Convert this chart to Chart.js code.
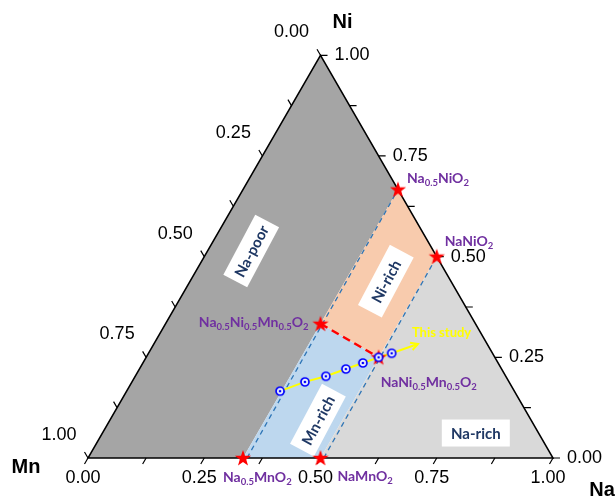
<!DOCTYPE html>
<html>
<head>
<meta charset="utf-8">
<script src="https://cdn.jsdelivr.net/npm/chart.js@4.4.0/dist/chart.umd.min.js"></script>
<style>
html, body { margin: 0; padding: 0; background: #fff; }
canvas { display: block; }
</style>
</head>
<body>
<canvas id="ternary" width="615" height="498"></canvas>
<script>
// compositions are given as Na and Ni fractions, Mn = 1 - Na - Ni
var tickValues = [0, 0.25, 0.5, 0.75, 1];
var tickLabels = ["0.00", "0.25", "0.50", "0.75", "1.00"];
var minorTicks = [0.125, 0.375, 0.625, 0.875];

var phaseNames = ["Na0.5NiO2", "NaNiO2", "Na0.5Ni0.5Mn0.5O2", "NaNi0.5Mn0.5O2", "Na0.5MnO2", "NaMnO2"];
var phaseNa = [1/3, 0.5, 1/3, 0.5, 1/3, 0.5];
var phaseNi = [2/3, 0.5, 1/3, 0.25, 0, 0];

var studyNa = [0.330, 0.372, 0.410, 0.444, 0.473, 0.500, 0.523];
var studyNi = [0.166, 0.189, 0.203, 0.221, 0.236, 0.250, 0.260];
var arrowNa = 0.568, arrowNi = 0.283;

var regionNames = ["Na-poor", "Mn-rich", "Ni-rich", "Na-rich"];
var regionNa = [[0, 1/3, 1/3, 0], [1/3, 0.5, 0.5, 1/3], [1/3, 0.5, 0.5, 1/3], [0.5, 1, 0.5]];
var regionNi = [[0, 0, 2/3, 1], [0, 0, 0.25, 1/3], [1/3, 0.25, 0.5, 2/3], [0, 0, 0.5]];
var regionLabelNa = [0.094, 0.4475, 0.421, 0.803];
var regionLabelNi = [0.514, 0.094, 0.439, 0.062];

var thirdLineNa = [0.342, 1/3], thirdLineNi = [0, 2/3];
var halfLineNa = [0.507, 0.5], halfLineNi = [0, 0.5];
var splitLineNa = [1/3, 0.5], splitLineNi = [1/3, 0.25];

// layout / style
var regionColors = ["#a5a5a5", "#bdd7ee", "#f8cbad", "#d9d9d9"];
var regionAngle = [-62, -62, -62, 0];
var labelDx = [9, 8, -12, 2, -20, 17];
var labelDy = [-12, -16, -2, 25, 19, 18];
var labelAlign = ["left", "left", "right", "left", "left", "left"];

var H = Math.sqrt(3) / 2;
function tern(na, ni) { return {x: na + ni / 2, y: ni * H}; }
function pts(nas, nis) {
    var out = [];
    for (var i = 0; i < nas.length; i++) out.push(tern(nas[i], nis[i]));
    return out;
}
function pix(chart, na, ni) {
    var p = tern(na, ni);
    return [chart.scales.x.getPixelForValue(p.x), chart.scales.y.getPixelForValue(p.y)];
}

// red filled star marker
var starImg = document.createElement("canvas");
starImg.width = 18; starImg.height = 18;
(function () {
    var c = starImg.getContext("2d");
    c.beginPath();
    for (var k = 0; k < 10; k++) {
        var r = k % 2 ? 3.4 : 8.5;
        var a = -Math.PI / 2 + k * Math.PI / 5;
        c.lineTo(9 + r * Math.cos(a), 9.5 + r * Math.sin(a));
    }
    c.closePath();
    c.fillStyle = "#ff0000";
    c.fill();
})();

// blue ring with centre dot
var ringImg = document.createElement("canvas");
ringImg.width = 12; ringImg.height = 12;
(function () {
    var c = ringImg.getContext("2d");
    c.beginPath();
    c.arc(6, 6, 4, 0, Math.PI * 2);
    c.fillStyle = "#eef4ff";
    c.fill();
    c.lineWidth = 1.7;
    c.strokeStyle = "#0000ff";
    c.stroke();
    c.beginPath();
    c.arc(6, 6, 1.3, 0, Math.PI * 2);
    c.fillStyle = "#0000ff";
    c.fill();
})();

function drawChem(ctx, name, x, y, align) {
    var parts = name.split(/(\d+(?:\.\d+)?)/);
    var big = "bold 14px Lato", small = "bold 9.5px Lato";
    var w = 0, i;
    for (i = 0; i < parts.length; i++) {
        ctx.font = i % 2 ? small : big;
        w += ctx.measureText(parts[i]).width;
    }
    var cx = align === "right" ? x - w : x;
    ctx.textAlign = "left";
    ctx.textBaseline = "alphabetic";
    for (i = 0; i < parts.length; i++) {
        ctx.font = i % 2 ? small : big;
        ctx.fillText(parts[i], cx, i % 2 ? y + 8 : y + 5);
        cx += ctx.measureText(parts[i]).width;
    }
}

var ternaryPlugin = {
    id: "ternary",
    beforeDatasetsDraw: function (chart) {
        var ctx = chart.ctx, i, j, p;
        ctx.save();
        // phase regions
        for (i = 0; i < regionNa.length; i++) {
            ctx.beginPath();
            for (j = 0; j < regionNa[i].length; j++) {
                p = pix(chart, regionNa[i][j], regionNi[i][j]);
                ctx.lineTo(p[0], p[1]);
            }
            ctx.closePath();
            ctx.fillStyle = regionColors[i];
            ctx.fill();
        }
        // frame
        var A = pix(chart, 0, 0), B = pix(chart, 1, 0), C = pix(chart, 0, 1);
        ctx.beginPath();
        ctx.moveTo(A[0], A[1]); ctx.lineTo(B[0], B[1]); ctx.lineTo(C[0], C[1]); ctx.closePath();
        ctx.strokeStyle = "#000"; ctx.lineWidth = 1.5;
        ctx.stroke();
        // ticks
        var all = tickValues.concat(minorTicks);
        ctx.lineWidth = 1.2;
        ctx.beginPath();
        for (i = 0; i < all.length; i++) {
            var t = all[i];
            p = pix(chart, t, 0);             // Na axis (bottom)
            ctx.moveTo(p[0], p[1]); ctx.lineTo(p[0] - 3.5, p[1] + 6);
            p = pix(chart, 1 - t, t);         // Ni axis (right)
            ctx.moveTo(p[0], p[1]); ctx.lineTo(p[0] + 7, p[1]);
            p = pix(chart, 0, 1 - t);         // Mn axis (left)
            ctx.moveTo(p[0], p[1]); ctx.lineTo(p[0] - 3.5, p[1] - 6);
        }
        ctx.stroke();
        // tick labels
        ctx.fillStyle = "#000";
        ctx.font = "18px 'Liberation Sans', Arial, sans-serif";
        ctx.textBaseline = "middle";
        for (i = 0; i < tickValues.length; i++) {
            var v = tickValues[i];
            ctx.textAlign = "center";
            p = pix(chart, v, 0);
            ctx.fillText(tickLabels[i], p[0] - 5, p[1] + 20);
            p = pix(chart, 0, 1 - v);
            ctx.fillText(tickLabels[i], p[0] - 29, p[1] - 23);
            ctx.textAlign = "left";
            p = pix(chart, 1 - v, v);
            ctx.fillText(tickLabels[i], p[0] + 14, p[1]);
        }
        // axis titles
        ctx.font = "bold 20px 'Liberation Sans', Arial, sans-serif";
        ctx.textAlign = "center";
        ctx.fillText("Ni", C[0] + 22, C[1] - 33);
        ctx.fillText("Mn", A[0] - 62, A[1] + 9);
        ctx.fillText("Na", B[0] + 49, B[1] + 32);
        // region labels in white boxes
        for (i = 0; i < regionNames.length; i++) {
            p = pix(chart, regionLabelNa[i], regionLabelNi[i]);
            ctx.save();
            ctx.translate(p[0], p[1]);
            ctx.rotate(regionAngle[i] * Math.PI / 180);
            ctx.fillStyle = "#fff";
            ctx.fillRect(-34, -13.5, 68, 27);
            ctx.fillStyle = "#1f3864";
            ctx.font = "bold 15px Lato";
            ctx.textAlign = "center";
            ctx.textBaseline = "middle";
            ctx.fillText(regionNames[i], 0, 1);
            ctx.restore();
        }
        ctx.restore();
    },
    afterDatasetsDraw: function (chart) {
        var ctx = chart.ctx, i, p;
        ctx.save();
        ctx.fillStyle = "#7030a0";
        for (i = 0; i < phaseNames.length; i++) {
            p = pix(chart, phaseNa[i], phaseNi[i]);
            drawChem(ctx, phaseNames[i], p[0] + labelDx[i], p[1] + labelDy[i], labelAlign[i]);
        }
        // arrow head of the study path
        var tip = pix(chart, arrowNa, arrowNi);
        var last = pix(chart, studyNa[studyNa.length - 1], studyNi[studyNi.length - 1]);
        var ang = Math.atan2(tip[1] - last[1], tip[0] - last[0]);
        ctx.strokeStyle = "#ffff00";
        ctx.lineWidth = 2;
        ctx.beginPath();
        ctx.moveTo(tip[0] - 8 * Math.cos(ang - 0.5), tip[1] - 8 * Math.sin(ang - 0.5));
        ctx.lineTo(tip[0], tip[1]);
        ctx.lineTo(tip[0] - 8 * Math.cos(ang + 0.5), tip[1] - 8 * Math.sin(ang + 0.5));
        ctx.stroke();
        ctx.fillStyle = "#ffff00";
        ctx.font = "bold 13px Lato";
        ctx.textAlign = "left";
        ctx.textBaseline = "middle";
        ctx.fillText("This study", tip[0] - 6, tip[1] - 11);
        ctx.restore();
    }
};

new Chart(document.getElementById("ternary"), {
    type: "scatter",
    data: {
        datasets: [
            {
                label: "This study",
                data: pts(studyNa, studyNi),
                pointStyle: ringImg,
                pointRadius: 5
            },
            {
                label: "phases",
                data: pts(phaseNa, phaseNi),
                pointStyle: starImg,
                pointRadius: 8
            },
            {
                label: "path",
                data: pts(studyNa.concat([arrowNa]), studyNi.concat([arrowNi])),
                showLine: true,
                borderColor: "#ffff00",
                borderWidth: 2,
                pointRadius: 0
            },
            {
                label: "Ni = Mn",
                data: pts(splitLineNa, splitLineNi),
                showLine: true,
                borderColor: "#ff0000",
                borderWidth: 2.5,
                borderDash: [8, 5],
                pointRadius: 0
            },
            {
                label: "Na = 1/3",
                data: pts(thirdLineNa, thirdLineNi),
                showLine: true,
                borderColor: "#2e75b6",
                borderWidth: 1.3,
                borderDash: [5, 4],
                pointRadius: 0
            },
            {
                label: "Na = 1/2",
                data: pts(halfLineNa, halfLineNi),
                showLine: true,
                borderColor: "#2e75b6",
                borderWidth: 1.3,
                borderDash: [5, 4],
                pointRadius: 0
            }
        ]
    },
    options: {
        responsive: false,
        devicePixelRatio: 1,
        animation: false,
        events: [],
        layout: { padding: 0, autoPadding: false },
        plugins: {
            legend: { display: false },
            tooltip: { enabled: false }
        },
        scales: {
            x: { type: "linear", min: -88 / 465, max: 527 / 465, display: false },
            y: { type: "linear", min: -40 / 465, max: 458 / 465, display: false }
        }
    },
    plugins: [ternaryPlugin]
});
</script>
</body>
</html>
